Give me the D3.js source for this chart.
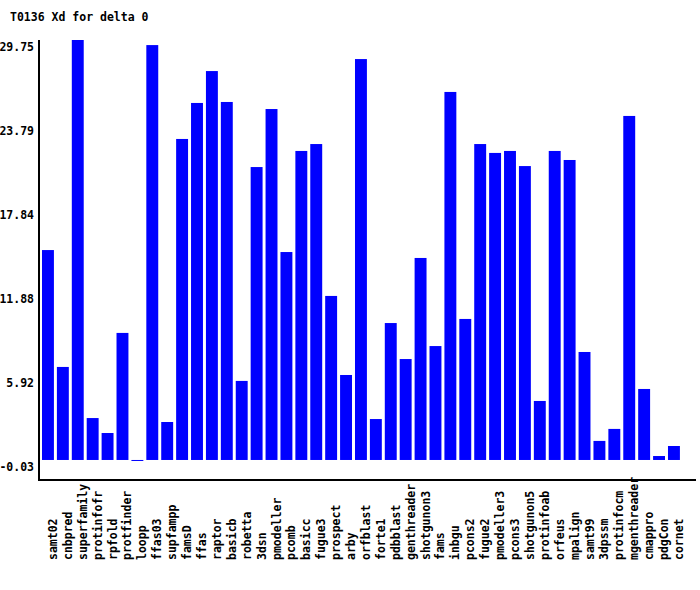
<!DOCTYPE html>
<html>
<head>
<meta charset="utf-8">
<script src="https://cdn.jsdelivr.net/npm/d3@7"></script>
<style>
body { margin: 0; background: #fff; }
svg text { font-family: "DejaVu Sans Mono", monospace; font-weight: bold; font-size: 11.5px; fill: #000; }
</style>
</head>
<body>
<svg id="chart" width="700" height="590"></svg>
<script>
const title = "T0136 Xd for delta 0";
const categories = ["samt02","cnbpred","superfamily","protinfofr","rpfold","protfinder","loopp","ffas03","supfampp","famsD","ffas","raptor","basicb","robetta","3dsn","pmodeller","pcomb","basicc","fugue3","prospect","arby","orfblast","forte1","pdbblast","genthreader","shotgunon3","fams","inbgu","pcons2","fugue2","pmodeller3","pcons3","shotgunon5","protinfoab","orfeus","mpalign","samt99","3dpssm","protinfocm","mgenthreader","cmappro","pdgCon","cornet"];
const values = [14.87,6.59,29.75,2.97,1.91,9.0,-0.03,29.39,2.69,22.74,25.29,27.55,25.36,5.60,20.75,24.86,14.73,21.89,22.38,11.62,6.02,28.40,2.90,9.70,7.15,14.31,8.07,26.07,9.99,22.38,21.75,21.89,20.82,4.18,21.89,21.25,7.65,1.35,2.20,24.37,5.03,0.28,0.99];
const tickValues = [29.75,23.79,17.84,11.88,5.92,-0.03];
const tickLabels = ["29.75","23.79","17.84","11.88","5.92","-0.03"];

const svg = d3.select("#chart");

const y = d3.scaleLinear().domain([-0.03, 29.75]).range([460.4, 40]);
const x = d3.scaleBand().domain(categories).range([40.5, 681.4]).paddingInner(0.2).paddingOuter(0.1);

svg.append("text").attr("x", 10).attr("y", 21).text(title);

// bars
svg.append("g").selectAll("rect").data(values).join("rect")
  .attr("x", (d, i) => x(categories[i]))
  .attr("width", x.bandwidth())
  .attr("y", d => Math.min(y(d), y(0)))
  .attr("height", d => Math.max(1, Math.abs(y(d) - y(0))))
  .attr("fill", "#0000ff");

// y axis
const yAxis = d3.axisLeft(y).tickValues(tickValues).tickSize(0).tickPadding(0)
  .tickFormat((d, i) => tickLabels[i]);
const gy = svg.append("g").attr("transform", "translate(39,0)").call(yAxis);
gy.select(".domain").remove();
gy.selectAll("text").attr("x", -5).attr("dy", null).attr("y", 10.5)
  .style("font-family", "DejaVu Sans Mono").style("font-weight", "bold").style("font-size", "11.5px").attr("fill", "#000");
svg.append("line").attr("x1", 39).attr("x2", 39).attr("y1", 40).attr("y2", 481)
  .attr("stroke", "#000").attr("stroke-width", 2);

// x axis
const xAxis = d3.axisBottom(x).tickSize(0).tickPadding(0);
const gx = svg.append("g").attr("transform", "translate(0,480)").call(xAxis);
gx.select(".domain").remove();
gx.selectAll("text")
  .attr("transform", "rotate(-90)")
  .attr("x", -80).attr("y", 9).attr("dy", null)
  .attr("text-anchor", "start")
  .style("font-family", "DejaVu Sans Mono").style("font-weight", "bold").style("font-size", "11.5px").attr("fill", "#000");
svg.append("line").attr("x1", 38).attr("x2", 696).attr("y1", 480).attr("y2", 480)
  .attr("stroke", "#000").attr("stroke-width", 2);
</script>
</body>
</html>
